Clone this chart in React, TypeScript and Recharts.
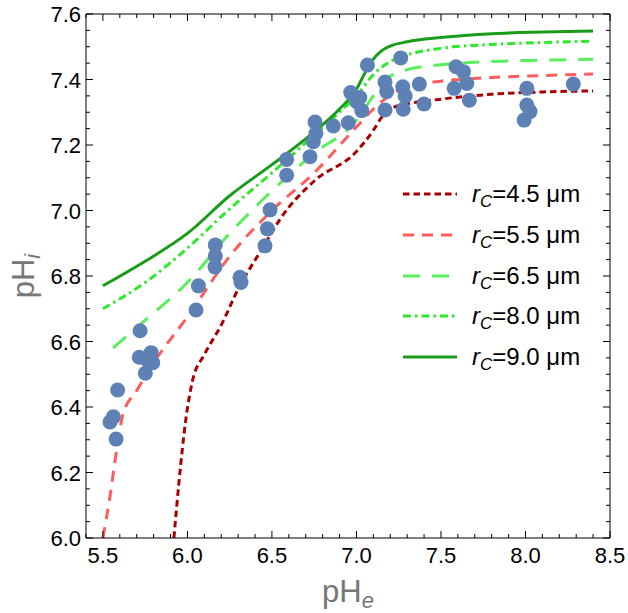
import React from 'react';
import { ComposedChart, Line, Scatter, XAxis, YAxis, Legend } from 'recharts';

// measured points (pHe, pHi)
const measuredPHe = [
  5.578, 5.542, 5.562, 5.587, 5.72, 5.715, 5.785, 5.795, 5.751, 5.76,
  6.051, 6.065, 6.163, 6.165, 6.165, 6.311, 6.317, 6.459, 6.473, 6.489,
  6.587, 6.587, 6.725, 6.745, 6.76, 6.755, 6.863, 6.952, 6.966, 7.002,
  7.031, 7.02, 7.065, 7.169, 7.179, 7.169, 7.262, 7.274, 7.288, 7.277,
  7.372, 7.4, 7.589, 7.633, 7.653, 7.578, 7.668, 8.008, 8.008, 8.027,
  7.992, 8.283,
];
const measuredPHi = [
  6.302, 6.354, 6.37, 6.452, 6.633, 6.552, 6.566, 6.535, 6.503, 6.545,
  6.696, 6.77, 6.828, 6.861, 6.895, 6.796, 6.78, 6.892, 6.944, 7.002,
  7.108, 7.156, 7.164, 7.21, 7.235, 7.27, 7.258, 7.268, 7.36, 7.332,
  7.305, 7.345, 7.444, 7.392, 7.363, 7.307, 7.466, 7.378, 7.35, 7.309,
  7.386, 7.325, 7.439, 7.424, 7.388, 7.373, 7.337, 7.373, 7.322, 7.302,
  7.276, 7.386,
];

// model curves, one per cell radius
const r45X = [5.92, 5.95, 5.99, 6.03, 6.1, 6.2, 6.3, 6.45, 6.55, 6.75, 7.0, 7.1, 7.15, 7.2, 7.3, 7.5, 7.8, 8.1, 8.4];
const r45Y = [6.0, 6.17, 6.36, 6.48, 6.56, 6.65, 6.76, 6.89, 6.975, 7.09, 7.18, 7.245, 7.285, 7.31, 7.325, 7.34, 7.355, 7.362, 7.365];

const r55X = [5.5, 5.54, 5.58, 5.62, 5.7, 5.8, 6.0, 6.25, 6.5, 6.75, 7.0, 7.1, 7.2, 7.3, 7.5, 7.8, 8.1, 8.4];
const r55Y = [6.0, 6.12, 6.265, 6.38, 6.45, 6.535, 6.675, 6.86, 7.0, 7.115, 7.255, 7.31, 7.352, 7.378, 7.395, 7.406, 7.412, 7.417];

const r65X = [5.56, 5.75, 6.0, 6.25, 6.5, 6.75, 7.0, 7.1, 7.2, 7.3, 7.5, 7.8, 8.1, 8.4];
const r65Y = [6.58, 6.665, 6.78, 6.93, 7.06, 7.175, 7.275, 7.35, 7.41, 7.43, 7.445, 7.455, 7.459, 7.462];

const r80X = [5.5, 5.75, 6.0, 6.25, 6.5, 6.75, 6.9, 7.0, 7.1, 7.2, 7.3, 7.5, 7.8, 8.1, 8.4];
const r80Y = [6.7, 6.78, 6.885, 7.005, 7.115, 7.23, 7.3, 7.35, 7.415, 7.455, 7.475, 7.495, 7.507, 7.513, 7.517];

const r90X = [5.5, 5.75, 6.0, 6.25, 6.5, 6.75, 6.9, 7.0, 7.05, 7.1, 7.15, 7.2, 7.3, 7.5, 7.8, 8.1, 8.4];
const r90Y = [6.77, 6.845, 6.93, 7.045, 7.14, 7.24, 7.31, 7.37, 7.42, 7.462, 7.488, 7.502, 7.515, 7.528, 7.54, 7.545, 7.548];

const radiusLabels = ['4.5', '5.5', '6.5', '8.0', '9.0'];

const xMajorTicks = [5.5, 6.0, 6.5, 7.0, 7.5, 8.0, 8.5];
const yMajorTicks = [6.0, 6.2, 6.4, 6.6, 6.8, 7.0, 7.2, 7.4, 7.6];

const font = '"Liberation Sans", Arial, Helvetica, sans-serif';

const zip = (xs: number[], ys: number[]) => xs.map((x, i) => ({ x, y: ys[i] }));

const points = zip(measuredPHe, measuredPHi);

const curves = [
  { key: 'r45', data: zip(r45X, r45Y), color: '#a80000', dash: '6.5 4' },
  { key: 'r55', data: zip(r55X, r55Y), color: '#ff5c5c', dash: '11 8' },
  { key: 'r65', data: zip(r65X, r65Y), color: '#5aee5a', dash: '17 12' },
  { key: 'r80', data: zip(r80X, r80Y), color: '#2ee82e', dash: '8 4 2.5 4' },
  { key: 'r90', data: zip(r90X, r90Y), color: '#1a9c1a', dash: undefined },
].map((c, i) => ({ ...c, label: radiusLabels[i] }));

// minor ticks every 0.1 on x and every 0.05 on y
const xTicks = Array.from({ length: 32 }, (_, i) => (54 + i) / 10);
const yTicks = Array.from({ length: 33 }, (_, i) => (600 + 5 * i) / 100);

const isMajor = (v: number, list: number[]) => list.some((m) => Math.abs(m - v) < 1e-6);

const BottomTick = (props: any) => {
  const { x, y, payload } = props;
  const major = isMajor(payload.value, xMajorTicks);
  return (
    <g>
      <line x1={x} y1={y} x2={x} y2={y - (major ? 7 : 4)} stroke="#000" />
      {major && (
        <text x={x} y={y + 25} textAnchor="middle" fontSize={22} fontFamily={font} fill="#000">
          {payload.value.toFixed(1)}
        </text>
      )}
    </g>
  );
};

const TopTick = (props: any) => {
  const { x, y, payload } = props;
  const major = isMajor(payload.value, xMajorTicks);
  return <line x1={x} y1={y} x2={x} y2={y + (major ? 7 : 4)} stroke="#000" />;
};

const LeftTick = (props: any) => {
  const { x, y, payload } = props;
  const major = isMajor(payload.value, yMajorTicks);
  return (
    <g>
      <line x1={x} y1={y} x2={x + (major ? 7 : 4)} y2={y} stroke="#000" />
      {major && (
        <text x={x - 5} y={y + 8} textAnchor="end" fontSize={22} fontFamily={font} fill="#000">
          {payload.value.toFixed(1)}
        </text>
      )}
    </g>
  );
};

const RightTick = (props: any) => {
  const { x, y, payload } = props;
  const major = isMajor(payload.value, yMajorTicks);
  return <line x1={x} y1={y} x2={x - (major ? 7 : 4)} y2={y} stroke="#000" />;
};

const XTitle = (props: any) => {
  const vb = props.viewBox || {};
  return (
    <text x={vb.x + vb.width / 2} y={vb.y + 64} textAnchor="middle" fontSize={31} fontFamily={font} fill="#777">
      pH<tspan fontSize={22} fontStyle="italic" dy={6}>e</tspan>
    </text>
  );
};

const YTitle = (props: any) => {
  const vb = props.viewBox || {};
  const cx = vb.x + vb.width - 52;
  const cy = vb.y + vb.height / 2;
  return (
    <text x={cx} y={cy} textAnchor="middle" fontSize={31} fontFamily={font} fill="#777" transform={`rotate(-90 ${cx} ${cy})`}>
      pH<tspan fontSize={22} fontStyle="italic" dy={6}>i</tspan>
    </text>
  );
};

const renderLegend = () => (
  <div style={{ fontFamily: font, fontSize: 24, color: '#000' }}>
    {curves.map((c) => (
      <div key={c.key} style={{ display: 'flex', alignItems: 'center', height: 40.8 }}>
        <svg width={54} height={10} style={{ display: 'block' }}>
          <line x1={0} y1={5} x2={54} y2={5} stroke={c.color} strokeWidth={3} strokeDasharray={c.dash} />
        </svg>
        <span style={{ marginLeft: 15, whiteSpace: 'nowrap' }}>
          <i>r</i>
          <i style={{ fontSize: 17, position: 'relative', top: 5 }}>C</i>=
          {c.label} μm
        </span>
      </div>
    ))}
  </div>
);

const axisCommon = {
  type: 'number' as const,
  interval: 0 as const,
  tickSize: 0,
  tickMargin: 0,
  tickLine: false,
  axisLine: { stroke: '#000' },
  allowDataOverflow: true,
};

export default function App() {
  return (
    <div style={{ position: 'absolute', left: 0, top: 0, width: 628, height: 613, background: '#fff' }}>
      <ComposedChart width={628} height={613} margin={{ top: 13, right: 17, bottom: 74, left: 85 }}>
        <XAxis
          {...axisCommon}
          xAxisId="b"
          dataKey="x"
          domain={[5.4, 8.5]}
          ticks={xTicks}
          height={1}
          tick={<BottomTick />}
          label={<XTitle />}
        />
        <XAxis
          {...axisCommon}
          xAxisId="t"
          orientation="top"
          dataKey="x"
          domain={[5.4, 8.5]}
          ticks={xTicks}
          height={1}
          tick={<TopTick />}
        />
        <YAxis
          {...axisCommon}
          yAxisId="l"
          dataKey="y"
          domain={[6.0, 7.6]}
          ticks={yTicks}
          width={1}
          tick={<LeftTick />}
          label={<YTitle />}
        />
        <YAxis
          {...axisCommon}
          yAxisId="r"
          orientation="right"
          dataKey="y"
          domain={[6.0, 7.6]}
          ticks={yTicks}
          width={1}
          tick={<RightTick />}
        />
        <Scatter
          xAxisId="b"
          yAxisId="l"
          data={points}
          dataKey="y"
          fill="#5e81b5"
          isAnimationActive={false}
          shape={(p: any) => <circle cx={p.cx} cy={p.cy} r={7.5} fill="#5e81b5" />}
        />
        {curves.map((c) => (
          <Line
            key={c.key}
            xAxisId="b"
            yAxisId="l"
            data={c.data}
            dataKey="y"
            type="monotone"
            stroke={c.color}
            strokeWidth={3}
            strokeDasharray={c.dash}
            dot={false}
            activeDot={false}
            isAnimationActive={false}
          />
        ))}
        <Legend
          layout="vertical"
          align="center"
          verticalAlign="middle"
          content={renderLegend}
          wrapperStyle={{ left: 403, top: 173.6, width: 'auto', height: 'auto' }}
        />
      </ComposedChart>
    </div>
  );
}
